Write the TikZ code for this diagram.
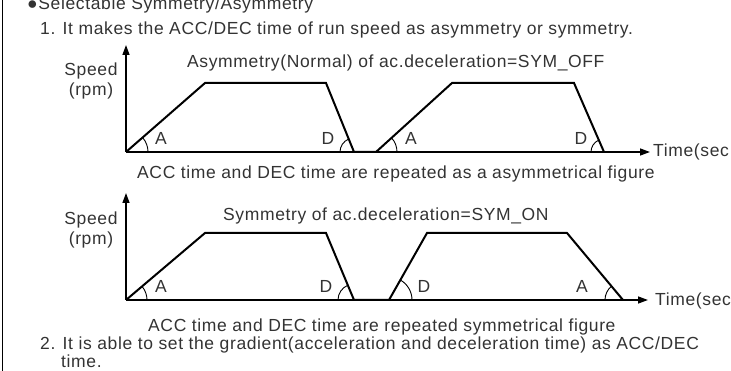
\documentclass[tikz,border=0pt]{standalone}
\usepackage{fontspec}
\setmainfont[LetterSpace=3.6]{Liberation Sans}
\usepackage{xcolor}
\usetikzlibrary{arrows.meta, positioning, calc}
\definecolor{inkgray}{HTML}{333333}
\tikzset{
  txt/.style={font=\fontsize{17.5}{19}\selectfont, text=inkgray, inner sep=0pt, anchor=base west},
  lbl/.style={font=\fontsize{17.5}{19}\selectfont, text=inkgray, inner sep=0pt},
  axis/.style={line width=1.4pt, -{Triangle[length=10pt,width=7pt]}},
  profile/.style={line width=2pt, line join=miter},
  anglearc/.style={line width=0.9pt}
}

\begin{document}
\begin{tikzpicture}[x=1pt,y=1pt]
\useasboundingbox (0,0) rectangle (731,371);
\draw[line width=1.6pt] (2.5,0) -- (2.5,371);

\node[txt] (title) at (27,361) {●Selectable Symmetry/Asymmetry};
\node[txt] (item1) at (40,336) {1. It makes the ACC/DEC time of run speed as asymmetry or symmetry.};
\node[txt] (item2) at (40,21) {2. It is able to set the gradient(acceleration and deceleration time) as ACC/DEC};
\node[txt] (item2b) at (61,3) {time.};

% SYM_OFF
\begin{scope}[shift={(126,219)}]
    \coordinate (o1) at (0,0);
    \draw[axis] (o1) -- ++(0,107) coordinate (ytip1);
    \draw[axis] (o1) -- ++(524,0) coordinate (xtip1);
    \draw[profile] (o1) -- (79,69) -- (200,69) -- (228,0) -- (250,0) -- (326,69) -- (448,69) -- (478,0);
    \foreach \x/\a/\b/\r in {0/0/41/22, 228/112/180/14, 250/0/42/21, 478/113.5/180/13}
        \draw[anglearc] (\x,0) ++(\a:\r pt) arc[start angle=\a, end angle=\b, radius=\r pt];
    \foreach \x/\t [count=\k] in {35/A, 202/D, 285/A, 455/D}
        \node[lbl] (ang1\k) at (\x,14) {\t};
    \node[lbl, anchor=base] (spd1) at (-35,76) {Speed};
    \node[lbl, anchor=base] (rpm1) at (-35,56) {(rpm)};
    \node[txt] (cap1) at (61,84) {Asymmetry(Normal) of ac.deceleration=SYM\_OFF};
    \node[txt] (time1) at (527,-5) {Time(sec};
    \node[txt] (note1) at (11,-27) {ACC time and DEC time are repeated as a asymmetrical figure};
\end{scope}

% SYM_ON
\begin{scope}[shift={(126,71)}]
    \coordinate (o2) at (0,0);
    \draw[axis] (o2) -- ++(0,107) coordinate (ytip2);
    \draw[axis] (o2) -- ++(522,0) coordinate (xtip2);
    \draw[profile] (o2) -- (79,67) -- (200,67) -- (228,0) -- (263,0) -- (301,67) -- (441,67) -- (497,0);
    \foreach \x/\a/\b/\r in {0/0/40.3/21, 228/112.7/180/16, 263/0/60.4/23, 497/129.9/180/18}
        \draw[anglearc] (\x,0) ++(\a:\r pt) arc[start angle=\a, end angle=\b, radius=\r pt];
    \foreach \x/\t [count=\k] in {35/A, 200/D, 298/D, 456/A}
        \node[lbl] (ang2\k) at (\x,14) {\t};
    \node[lbl, anchor=base] (spd2) at (-35,75) {Speed};
    \node[lbl, anchor=base] (rpm2) at (-35,55) {(rpm)};
    \node[txt] (cap2) at (97,79) {Symmetry of ac.deceleration=SYM\_ON};
    \node[txt] (time2) at (529,-6) {Time(sec};
    \node[txt] (note2) at (22,-32) {ACC time and DEC time are repeated symmetrical figure};
\end{scope}
\end{tikzpicture}
\end{document}
